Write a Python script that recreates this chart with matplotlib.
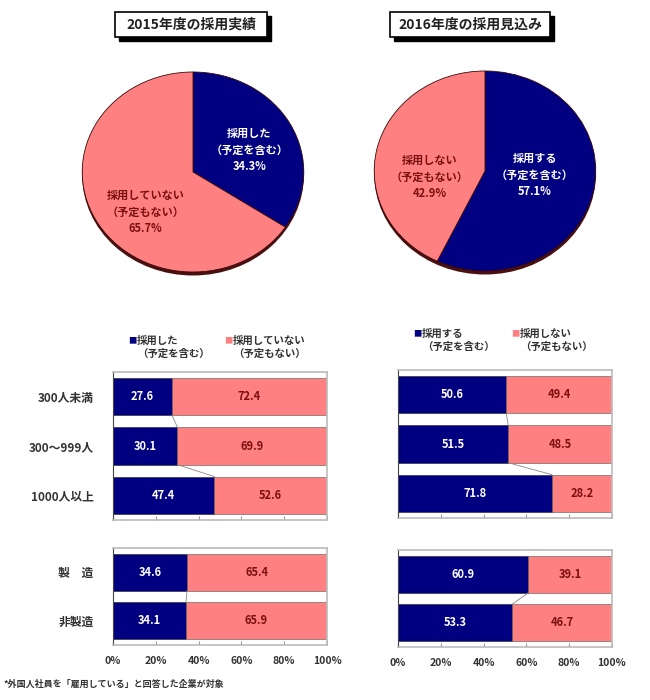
import matplotlib
matplotlib.use("Agg")
import matplotlib.pyplot as plt
from matplotlib.patches import Rectangle, Ellipse

plt.rcParams['font.family'] = ['Noto Sans CJK JP', 'DejaVu Sans']

# data
pie_2015 = [34.3, 65.7]
pie_2016 = [57.1, 42.9]
pie_2015_labels = ['採用した\n（予定を含む）\n34.3%', '採用していない\n（予定もない）\n65.7%']
pie_2016_labels = ['採用する\n（予定を含む）\n57.1%', '採用しない\n（予定もない）\n42.9%']

size_labels = ['300人未満', '300～999人', '1000人以上']
ind_labels = ['製　造', '非製造']

hired_2015_size = [27.6, 30.1, 47.4]
not_2015_size = [72.4, 69.9, 52.6]
hired_2015_ind = [34.6, 34.1]
not_2015_ind = [65.4, 65.9]

plan_2016_size = [50.6, 51.5, 71.8]
noplan_2016_size = [49.4, 48.5, 28.2]
plan_2016_ind = [60.9, 53.3]
noplan_2016_ind = [39.1, 46.7]

xticks = [0, 20, 40, 60, 80, 100]

NAVY = '#000080'
PINK = '#ff8080'
DARKRED = '#7a1010'
TXT = '#333333'

W, H = 650, 700
fig = plt.figure(figsize=(6.5, 7), dpi=100)
fig.patch.set_facecolor('white')


def box(x0, y0, x1, y1):
    # pixel box (top-left origin) -> figure coords
    return [x0 / W, 1 - y1 / H, (x1 - x0) / W, (y1 - y0) / H]


def fx(x):
    return x / W


def fy(y):
    return 1 - y / H


def title_box(x0, y0, x1, y1, text):
    fig.patches.append(Rectangle((fx(x0 + 4), fy(y1 + 4)), fx(x1 - x0), (y1 - y0) / H,
                                 transform=fig.transFigure, facecolor='black',
                                 edgecolor='black', zorder=1))
    fig.patches.append(Rectangle((fx(x0), fy(y1)), fx(x1 - x0), (y1 - y0) / H,
                                 transform=fig.transFigure, facecolor='white',
                                 edgecolor='black', lw=1.2, zorder=2))
    fig.text(fx((x0 + x1) / 2), fy((y0 + y1) / 2), text, ha='center', va='center',
             fontsize=10, fontweight='bold', color='#222222', zorder=3)


def draw_pie(rect, values, labels, label_pos):
    ax = fig.add_axes(rect)
    ax.add_patch(Ellipse((0, -0.035), 2.0, 2.0, facecolor='#4a1010', edgecolor='none', zorder=0))
    wedges, _ = ax.pie(values, colors=[NAVY, PINK], startangle=90, counterclock=False,
                       radius=1.0, wedgeprops=dict(edgecolor='#3a0a0a', linewidth=0.6))
    ax.set_aspect('auto')
    ax.set_xlim(-1.02, 1.02)
    ax.set_ylim(-1.06, 1.02)
    ax.axis('off')
    for lab, pos, col in zip(labels, label_pos, ['white', DARKRED]):
        ax.text(pos[0], pos[1], lab, ha='center', va='center', fontsize=8,
                color=col, fontweight='bold', linespacing=1.35)


title_box(115, 12, 267, 37, '2015年度の採用実績')
title_box(390, 12, 550, 37, '2016年度の採用見込み')

draw_pie(box(80, 70, 306, 278), pie_2015, pie_2015_labels, [(0.51, 0.22), (-0.43, -0.40)])
draw_pie(box(372, 69, 598, 277), pie_2016, pie_2016_labels, [(0.45, -0.04), (-0.50, -0.06)])


def draw_bars(rect, cats, left_vals, right_vals, show_y, show_x):
    ax = fig.add_axes(rect)
    ypos = list(range(len(cats)))
    h = 0.76
    ax.barh(ypos, left_vals, height=h, color=NAVY, edgecolor='#222222', lw=0.4)
    ax.barh(ypos, right_vals, left=left_vals, height=h, color=PINK, edgecolor='#555555', lw=0.4)
    # series lines between bars
    for i in range(len(cats) - 1):
        ax.plot([left_vals[i], left_vals[i + 1]], [i + h / 2, i + 1 - h / 2],
                color='#888888', lw=0.6)
    for i in ypos:
        ax.text(left_vals[i] / 2, i, f'{left_vals[i]:.1f}', ha='center', va='center',
                fontsize=8, color='white', fontweight='bold')
        ax.text(left_vals[i] + right_vals[i] / 2, i, f'{right_vals[i]:.1f}', ha='center',
                va='center', fontsize=8, color=DARKRED, fontweight='bold')
    ax.set_xlim(0, 100)
    ax.set_ylim(len(cats) - 0.5, -0.5)
    ax.set_yticks(ypos)
    if show_y:
        ax.set_yticklabels(cats, fontsize=8.5, color=TXT, fontweight='bold')
    else:
        ax.set_yticklabels([])
    ax.tick_params(axis='y', length=0, pad=14)
    ax.set_xticks(xticks)
    if show_x:
        ax.set_xticklabels([f'{t}%' for t in xticks], fontsize=7.5, color=TXT, fontweight='bold')
    else:
        ax.set_xticklabels([])
    ax.tick_params(axis='x', direction='in', length=3, color='#999999', pad=8)
    for s in ['top', 'right', 'bottom']:
        ax.spines[s].set_color('#bbbbbb')
        ax.spines[s].set_linewidth(1.2)
    ax.spines['left'].set_color('#444444')
    return ax


draw_bars(box(113, 372, 327, 520), size_labels, hired_2015_size, not_2015_size, True, False)
draw_bars(box(113, 548, 327, 645), ind_labels, hired_2015_ind, not_2015_ind, True, True)
draw_bars(box(398, 370, 612, 518), size_labels, plan_2016_size, noplan_2016_size, False, False)
draw_bars(box(398, 550, 612, 647), ind_labels, plan_2016_ind, noplan_2016_ind, False, True)


def legend_item(x, y, color, line1, line2):
    fig.text(fx(x), fy(y), '■', color=color, fontsize=6, ha='left', va='center')
    fig.text(fx(x + 9), fy(y), line1, color=TXT, fontsize=7.5, ha='left', va='center',
             fontweight='bold')
    fig.text(fx(x + 9), fy(y + 13), line2, color=TXT, fontsize=7.5, ha='left', va='center',
             fontweight='bold')


legend_item(128, 341, NAVY, '採用した', '（予定を含む）')
legend_item(224, 341, PINK, '採用していない', '（予定もない）')
legend_item(413, 334, NAVY, '採用する', '（予定を含む）')
legend_item(511, 334, PINK, '採用しない', '（予定もない）')

fig.text(fx(4), fy(684), '*外国人社員を「雇用している」と回答した企業が対象', fontsize=6.5,
         color=TXT, fontweight='bold', ha='left', va='center')

fig.savefig('out.png', dpi=100, facecolor='white')
